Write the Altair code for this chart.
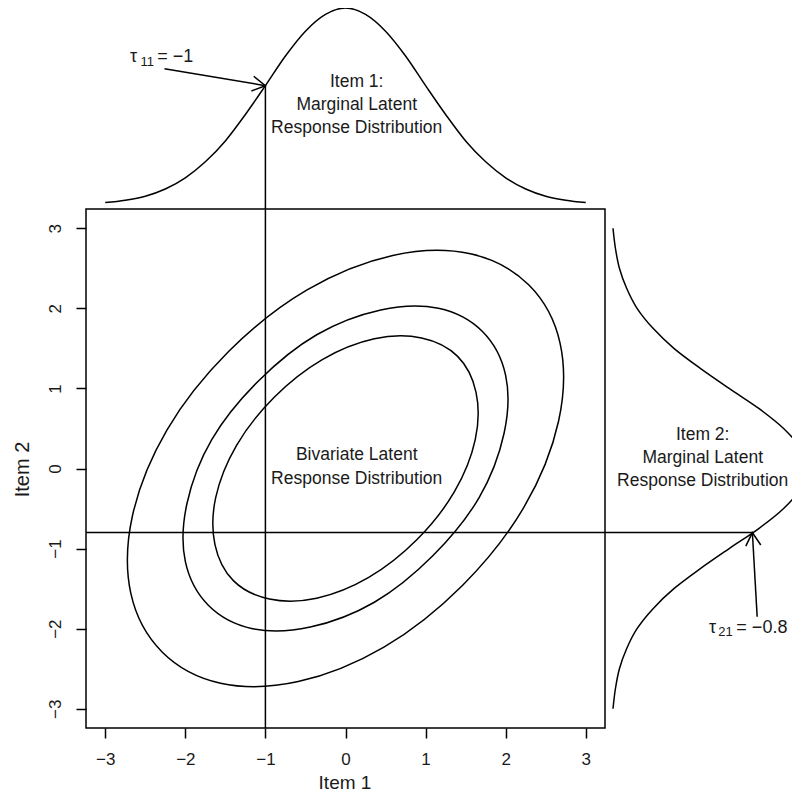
import altair as alt
import pandas as pd

# ---------------- data ----------------
ticks = [-3, -2, -1, 0, 1, 2, 3]
lim = [-3.24, 3.24]

# contour ellipses of the bivariate latent distribution (points around each contour)
outer_x = [2.29, 2.68, 2.66, 2.23, 1.46, 0.48, -0.59, -1.56, -2.29, -2.68, -2.66, -2.23, -1.46, -0.48, 0.59, 1.56]
outer_y = [2.29, 1.56, 0.59, -0.48, -1.46, -2.23, -2.66, -2.68, -2.29, -1.56, -0.59, 0.48, 1.46, 2.23, 2.66, 2.68]
middle_x = [1.71, 2.00, 1.98, 1.67, 1.09, 0.36, -0.44, -1.16, -1.71, -2.00, -1.98, -1.67, -1.09, -0.36, 0.44, 1.16]
middle_y = [1.71, 1.16, 0.44, -0.36, -1.09, -1.67, -1.98, -2.00, -1.71, -1.16, -0.44, 0.36, 1.09, 1.67, 1.98, 2.00]
inner_x = [1.40, 1.63, 1.62, 1.36, 0.89, 0.29, -0.36, -0.95, -1.40, -1.63, -1.62, -1.36, -0.89, -0.29, 0.36, 0.95]
inner_y = [1.40, 0.95, 0.36, -0.29, -0.89, -1.36, -1.62, -1.63, -1.40, -0.95, -0.36, 0.29, 0.89, 1.36, 1.62, 1.63]

# marginal densities (drawn outside the box, in the same units)
dens_grid = [-3, -2.75, -2.5, -2.25, -2, -1.75, -1.5, -1.25, -1, -0.75, -0.5, -0.25, 0,
             0.25, 0.5, 0.75, 1, 1.25, 1.5, 1.75, 2, 2.25, 2.5, 2.75, 3]
top_y = [3.32, 3.35, 3.40, 3.49, 3.63, 3.83, 4.09, 4.42, 4.78, 5.15, 5.46, 5.67, 5.75,
         5.67, 5.46, 5.15, 4.78, 4.42, 4.09, 3.83, 3.63, 3.49, 3.40, 3.35, 3.32]
right_x = [3.34, 3.37, 3.42, 3.51, 3.64, 3.84, 4.10, 4.43, 4.79, 5.16, 5.47, 5.68, 5.76,
           5.68, 5.47, 5.16, 4.79, 4.43, 4.10, 3.84, 3.64, 3.51, 3.42, 3.37, 3.34]

# thresholds
tau11 = -1.0
tau21 = -0.8
tau11_dens = 4.78   # height of item 1 density at tau11
tau21_dens = 5.08   # height of item 2 density at tau21

# arrows (tail -> tip)
arrow_x = [-2.26, 5.14]
arrow_y = [4.99, -1.85]
arrow_x2 = [tau11, tau21_dens]
arrow_y2 = [tau11_dens, tau21]
arrow_angle = [99, 356]

# annotation texts
top_lines = ["Item 1:", "Marginal Latent", "Response Distribution"]
top_lines_y = [4.76, 4.47, 4.19]
top_lines_x = 0.14
biv_lines = ["Bivariate Latent", "Response Distribution"]
biv_lines_y = [0.10, -0.19]
biv_lines_x = 0.14
right_lines = ["Item 2:", "Marginal Latent", "Response Distribution"]
right_lines_y = [0.36, 0.07, -0.22]
right_lines_x = 4.46

tau_main_txt = ["\u03c4", "= \u22121", "\u03c4", "= \u22120.8"]
tau_main_x = [-2.69, -2.35, 4.54, 4.88]
tau_main_y = [5.07, 5.07, -2.05, -2.05]
tau_sub_txt = ["11", "21"]
tau_sub_x = [-2.56, 4.655]
tau_sub_y = [5.02, -2.09]

# ---------------- tables ----------------
ell_rows = []
for name, xs_, ys_ in [("outer", outer_x, outer_y), ("middle", middle_x, middle_y), ("inner", inner_x, inner_y)]:
    for i, (a, b) in enumerate(zip(xs_, ys_)):
        ell_rows.append({"level": name, "i": i, "x": a, "y": b})
ell_df = pd.DataFrame(ell_rows)
top_df = pd.DataFrame({"x": dens_grid, "y": top_y, "i": list(range(len(dens_grid)))})
right_df = pd.DataFrame({"x": right_x, "y": dens_grid, "i": list(range(len(dens_grid)))})
rule_df = pd.DataFrame({"x": [tau11, lim[0]], "x2": [tau11, tau21_dens],
                        "y": [lim[0], tau21], "y2": [tau11_dens, tau21]})
arrow_df = pd.DataFrame({"x": arrow_x, "y": arrow_y, "x2": arrow_x2, "y2": arrow_y2, "ang": arrow_angle})
center_df = pd.DataFrame({
    "t": top_lines + biv_lines + right_lines,
    "x": [top_lines_x] * 3 + [biv_lines_x] * 2 + [right_lines_x] * 3,
    "y": top_lines_y + biv_lines_y + right_lines_y,
})
tau_df = pd.DataFrame({"t": tau_main_txt, "x": tau_main_x, "y": tau_main_y})
sub_df = pd.DataFrame({"t": tau_sub_txt, "x": tau_sub_x, "y": tau_sub_y})

FONT = "Liberation Sans"
INK = "#1a1a1a"
LW = 1.5

xs = alt.Scale(domain=lim, nice=False, zero=False)
ys = alt.Scale(domain=lim, nice=False, zero=False)

x_axis = alt.Axis(values=ticks, title="Item 1", titleX=258.5, titleY=60.5, titleAlign="center",
                  titleBaseline="alphabetic", labelBaseline="alphabetic", labelPadding=26,
                  labelAlign="center", domain=False, grid=False, tickSize=10, titleFontSize=19)
y_axis = alt.Axis(values=ticks, title="Item 2", titleX=-58, titleY=260, titleAngle=270,
                  titleAlign="center", titleBaseline="alphabetic", labelAngle=270,
                  labelAlign="center", labelBaseline="alphabetic", labelPadding=16,
                  domain=False, grid=False, tickSize=10)


def X(field):
    return alt.X(field, type="quantitative", scale=xs, axis=x_axis)


def Y(field):
    return alt.Y(field, type="quantitative", scale=ys, axis=y_axis)


ellipses = alt.Chart(ell_df).mark_line(
    interpolate="cardinal-closed", color="black", strokeWidth=LW, clip=False
).encode(x=X("x"), y=Y("y"), detail="level:N", order="i:Q")

top_dens = alt.Chart(top_df).mark_line(
    interpolate="cardinal", color="black", strokeWidth=LW, clip=False
).encode(x=X("x"), y=Y("y"), order="i:Q")

right_dens = alt.Chart(right_df).mark_line(
    interpolate="cardinal", color="black", strokeWidth=LW, clip=False
).encode(x=X("x"), y=Y("y"), order="i:Q")

rules = alt.Chart(rule_df).mark_rule(color="black", strokeWidth=LW, clip=False).encode(
    x=X("x"), x2="x2:Q", y=Y("y"), y2="y2:Q",
)

shafts = alt.Chart(arrow_df).mark_rule(color="black", strokeWidth=LW, clip=False).encode(
    x=X("x"), x2="x2:Q", y=Y("y"), y2="y2:Q",
)

heads = alt.Chart(arrow_df).mark_point(
    shape="M -0.5 0.866 L 0 0 L 0.5 0.866", filled=False, size=900, stroke="black",
    strokeWidth=LW, opacity=1, clip=False
).encode(x=X("x2"), y=Y("y2"), angle=alt.Angle("ang:Q", scale=None))

center_txt = alt.Chart(center_df).mark_text(
    font=FONT, fontSize=17.5, color=INK, align="center", baseline="alphabetic", clip=False
).encode(x=X("x"), y=Y("y"), text="t:N")

tau_txt = alt.Chart(tau_df).mark_text(
    font=FONT, fontSize=18, color=INK, align="left", baseline="alphabetic", clip=False
).encode(x=X("x"), y=Y("y"), text="t:N")

sub_txt = alt.Chart(sub_df).mark_text(
    font=FONT, fontSize=13, color=INK, align="left", baseline="alphabetic", clip=False
).encode(x=X("x"), y=Y("y"), text="t:N")

chart = alt.layer(
    ellipses, top_dens, right_dens, rules, shafts, heads, center_txt, tau_txt, sub_txt
).properties(
    width=519, height=519,
    autosize=alt.AutoSizeParams(type="none"),
    padding={"left": 78, "top": 201, "right": 187, "bottom": 66},
    background="white",
).configure_view(
    stroke="black", strokeWidth=LW
).configure_axis(
    domain=False, grid=False, ticks=True, tickSize=10, tickWidth=LW, tickColor="black",
    labelFont=FONT, labelFontSize=17, labelColor=INK, labelFlush=False, labelOverlap=False,
    titleFont=FONT, titleFontSize=20, titleFontWeight="normal", titleColor=INK,
)

chart.save("out.html", embed_options={"renderer": "svg", "actions": False})
